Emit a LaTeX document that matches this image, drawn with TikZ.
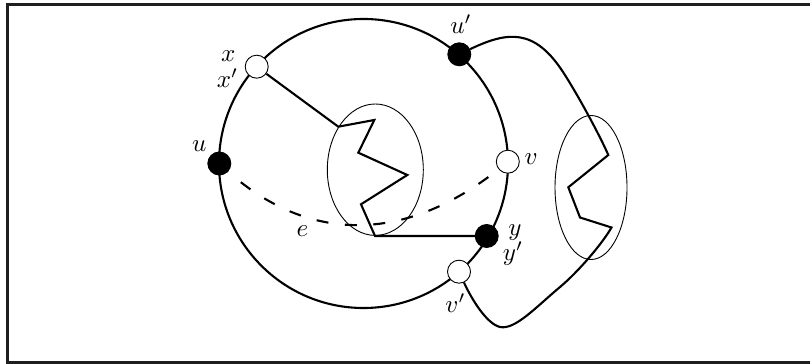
\documentclass[tikz,border=0pt]{standalone}
\usetikzlibrary{backgrounds}
\begin{document}
\begin{tikzpicture}[x=0.4pt,y=-0.4pt,
  thickline/.style={line width=0.84pt, line join=miter},
  thinline/.style={line width=0.36pt},
  opennode/.style={circle, draw, fill=white, line width=0.36pt, minimum size=9.2pt, inner sep=0pt},
  fullnode/.style={circle, draw, fill=black, line width=0.36pt, minimum size=9.2pt, inner sep=0pt},
  lab/.style={anchor=base, inner sep=0pt}]
\useasboundingbox (0,0) rectangle (810,364);
\clip (0,0) rectangle (810,364);
% nodes
\node[opennode] (x) at (256.7,66.7) {};
\node[fullnode] (up) at (459.3,54.3) {};
\node[fullnode] (u) at (219.3,163.5) {};
\node[opennode] (v) at (507.8,161.7) {};
\node[fullnode] (y) at (486.7,236) {};
\node[opennode] (vp) at (459,271.7) {};
% labels
\node[lab] (lx) at (228.3,61.7) {$x$};
\node[lab] (lxp) at (227.5,87.3) {$x'$};
\node[lab] (lup) at (461,33.3) {$u'$};
\node[lab] (lu) at (199.2,151.7) {$u$};
\node[lab] (lv) at (531,165) {$v$};
\node[lab] (ly) at (515,235.7) {$y$};
\node[lab] (lyp) at (513,261) {$y'$};
\node[lab] (lvp) at (455.5,313) {$v'$};
\node[lab] (le) at (302.5,236.7) {$e$};
% coordinates
\coordinate (z1) at (338.3,126.7);
\coordinate (z2) at (374.3,120);
\coordinate (z3) at (358.3,152.7);
\coordinate (z4) at (407.3,175);
\coordinate (z5) at (361,204.3);
\coordinate (z6) at (375,236);
\coordinate (p1) at (563,72);
\coordinate (q1) at (608.3,155);
\coordinate (q2) at (568.3,187.3);
\coordinate (q3) at (580,217.5);
\coordinate (q4) at (611.5,227.5);
\coordinate (q5) at (560,287);
\coordinate (q6) at (500,327);
\begin{scope}[on background layer]
  \draw[line width=1.04pt, black!88] (830,4.3) -- (7.5,4.3) -- (7.5,362.5) -- (830,362.5);
  \draw[thickline] (363.5,163.5) circle[radius=57.8pt];
  \draw[thinline] (375.3,169.7) ellipse[x radius=19.2pt, y radius=26.28pt];
  \draw[thinline] (591,187.5) ellipse[x radius=14.4pt, y radius=28.8pt];
  \draw[thickline] (x) -- (z1) -- (z2) -- (z3) -- (z4) -- (z5) -- (z6) -- (y);
  \draw[thickline, dash pattern=on 4.8pt off 6.6pt] (u.center) .. controls (305,246) and (408,246) .. (v.center);
  \draw[thickline] (up) .. controls (507,31.6) and (534,27.6) .. (p1)
    .. controls (578,95) and (600,136) .. (q1) -- (q2) -- (q3) -- (q4)
    .. controls (602,244) and (578,272) .. (q5)
    .. controls (535,308) and (515,330) .. (q6)
    .. controls (487,324) and (472,300) .. (vp);
\end{scope}
\end{tikzpicture}
\end{document}
